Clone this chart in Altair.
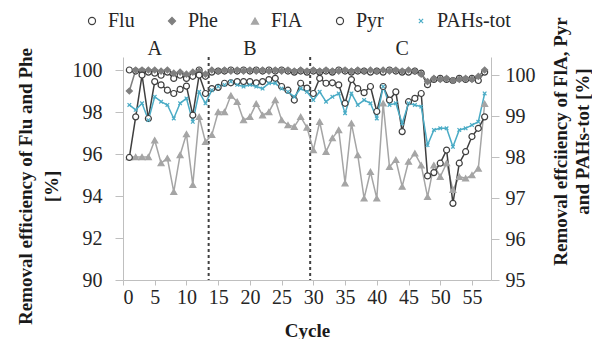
import altair as alt
import pandas as pd

cycles = list(range(1, 58))

# Left axis series (Removal efficiency of Flu and Phe, %)
flu = [100.0, 99.95, 99.95, 99.9, 99.85, 99.75, 99.9, 99.6, 99.75, 99.6,
       99.7, 100.0, 99.7, 99.9, 99.95, 99.95, 100.0, 99.95, 100.0, 99.95,
       100.0, 99.95, 100.0, 99.95, 100.0, 99.95, 99.9, 99.95, 99.9, 99.95,
       99.9, 99.95, 99.9, 100.0, 99.95, 99.9, 99.95, 99.95, 99.9, 99.95,
       99.9, 100.0, 99.95, 99.9, 99.9, 99.95, 99.85, 99.3, 99.55, 99.6,
       99.55, 99.5, 99.6, 99.55, 99.6, 99.5, 99.9]
phe = [99.0, 100.0, 100.0, 100.0, 100.0, 99.95, 100.0, 99.85, 99.9, 99.8,
       99.9, 99.95, 99.8, 100.0, 99.95, 100.0, 99.95, 100.0, 99.95, 100.0,
       99.95, 100.0, 99.95, 100.0, 99.95, 100.0, 99.95, 100.0, 99.95, 100.0,
       99.95, 100.0, 99.95, 99.95, 100.0, 99.95, 100.0, 99.95, 100.0, 99.95,
       100.0, 99.95, 100.0, 99.95, 100.0, 99.95, 99.8, 99.45, 99.6, 99.55,
       99.6, 99.5, 99.55, 99.6, 99.55, 99.7, 100.0]

# Right axis series (Removal efficiency of FlA, Pyr and PAHs-tot, %)
fla = [98.0, 98.0, 98.0, 98.0, 98.41, 97.85, 97.97, 97.15, 98.05, 98.56,
       97.32, 98.98, 98.37, 98.54, 99.1, 99.1, 99.5, 99.35, 98.9, 98.98,
       99.3, 99.02, 99.1, 99.39, 98.9, 98.78, 98.74, 98.98, 98.72, 98.17,
       98.86, 98.13, 98.46, 98.66, 97.36, 98.82, 98.05, 96.99, 97.64, 96.99,
       99.31, 97.76, 97.93, 97.28, 97.89, 98.09, 97.8, 97.03, 97.8, 97.52,
       97.85, 97.2, 97.52, 97.48, 97.56, 97.72, 99.3]
pyr = [97.99, 98.98, 100.0, 98.94, 99.84, 99.76, 99.63, 99.55, 99.65, 99.73,
       99.02, 100.0, 99.55, 99.67, 99.7, 99.8, 99.81, 99.84, 99.84, 99.84,
       99.81, 99.84, 99.89, 99.92, 99.72, 99.63, 99.39, 99.8, 99.68, 99.55,
       99.92, 99.8, 99.81, 99.76, 99.31, 99.89, 99.67, 99.57, 99.72, 99.11,
       99.72, 99.39, 99.59, 98.62, 99.35, 99.43, 99.55, 97.54, 97.62, 97.85,
       98.17, 96.87, 97.85, 98.13, 98.5, 98.7, 98.98]
pahs = [99.27, 99.15, 99.31, 98.9, 99.47, 99.35, 99.27, 98.94, 99.31, 99.43,
        98.86, 99.59, 99.31, 99.63, 99.72, 99.76, 99.84, 99.76, 99.72, 99.76,
        99.72, 99.67, 99.8, 99.8, 99.67, 99.59, 99.47, 99.67, 99.59, 99.39,
        99.59, 99.35, 99.47, 99.55, 99.07, 99.55, 99.27, 99.39, 99.31, 98.94,
        99.72, 99.27, 99.31, 98.82, 99.31, 99.27, 99.23, 98.29, 98.66, 98.7,
        98.7, 98.25, 98.66, 98.7, 98.78, 98.86, 99.55]

phase_cycles = [5, 20, 44]
phase_labels = ["A", "B", "C"]
phase_y = [100.98, 100.98, 100.98]
boundaries = [13.5, 29.5]

series = ["Flu", "Phe", "FlA", "Pyr", "PAHs-tot"]
stroke_range = ["#3f3f3f", "#7f7f7f", "#a5a5a5", "#3f3f3f", "#4bacc6"]
fill_range = ["#ffffff", "#7f7f7f", "#a5a5a5", "#ffffff", "#4bacc6"]
shape_range = ["circle", "diamond", "triangle-up", "circle",
               "M-0.6,-0.6L0.6,0.6M-0.6,0.6L0.6,-0.6"]

left_df = pd.concat([
    pd.DataFrame({"cycle": cycles, "value": flu, "series": "Flu"}),
    pd.DataFrame({"cycle": cycles, "value": phe, "series": "Phe"}),
])
right_df = pd.concat([
    pd.DataFrame({"cycle": cycles, "value": fla, "series": "FlA"}),
    pd.DataFrame({"cycle": cycles, "value": pyr, "series": "Pyr"}),
    pd.DataFrame({"cycle": cycles, "value": pahs, "series": "PAHs-tot"}),
])
phase_df = pd.DataFrame({"cycle": phase_cycles, "value": phase_y, "label": phase_labels})
bound_df = pd.DataFrame({"cycle": boundaries})

FONT = "Liberation Serif"

legend = alt.Legend(
    title=None, orient="none", legendX=-41, legendY=-46, direction="horizontal",
    columns=5, labelFont=FONT, labelFontSize=20, labelColor="#262626",
    symbolSize=50, symbolStrokeWidth=1.2, columnPadding=27, labelOffset=6,
    padding=0,
)
stroke_enc = alt.Stroke("series:N", sort=series,
                        scale=alt.Scale(domain=series, range=stroke_range), legend=legend)
fill_enc = alt.Fill("series:N", sort=series,
                    scale=alt.Scale(domain=series, range=fill_range), legend=legend)
shape_enc = alt.Shape("series:N", sort=series,
                      scale=alt.Scale(domain=series, range=shape_range), legend=legend)

x_enc = alt.X("cycle:Q", scale=alt.Scale(domain=[0, 58], nice=False),
              axis=alt.Axis(values=list(range(0, 56, 5)), title="Cycle",
                            labelPadding=2, tickSize=5, titlePadding=14))

y_left = alt.Y("value:Q", scale=alt.Scale(domain=[90, 100.62], nice=False, zero=False),
               axis=alt.Axis(orient="left", values=[90, 92, 94, 96, 98, 100],
                             title=["Removal efficiency of Flu and Phe", "[%]"],
                             titleAngle=270, titleX=-98, titleY=129,
                             titleAlign="center", titleBaseline="middle",
                             titleLineHeight=26, tickSize=8, labelPadding=13))
y_right = alt.Y("value:Q", scale=alt.Scale(domain=[95, 100.44], nice=False, zero=False),
                axis=alt.Axis(orient="right", values=[95, 96, 97, 98, 99, 100],
                              title=["Removal effciiency of FlA, Pyr", "and PAHs-tot [%]"],
                              titleAngle=270, titleX=69, titleY=84,
                              titleAlign="center", titleBaseline="middle",
                              titleLineHeight=22, tickSize=8, labelPadding=6))

rules = alt.Chart(bound_df).mark_rule(color="#404040", strokeDash=[3, 3],
                                      strokeWidth=2).encode(x=x_enc)

left_lines = alt.Chart(left_df).mark_line(strokeWidth=1.5).encode(
    x=x_enc, y=y_left, stroke=stroke_enc)
left_pts = alt.Chart(left_df).mark_point(size=36, strokeWidth=1.2, opacity=1).encode(
    x=x_enc, y=y_left, stroke=stroke_enc, fill=fill_enc, shape=shape_enc)
texts = alt.Chart(phase_df).mark_text(font=FONT, fontSize=20, color="#262626",
                                      baseline="middle").encode(
    x=x_enc, y=y_left, text="label:N")

right_lines = alt.Chart(right_df).mark_line(strokeWidth=1.5).encode(
    x=x_enc, y=y_right, stroke=stroke_enc)
right_pts = alt.Chart(right_df).mark_point(size=36, strokeWidth=1.2, opacity=1).encode(
    x=x_enc, y=y_right, stroke=stroke_enc, fill=fill_enc, shape=shape_enc)

left = alt.layer(rules, left_lines, left_pts, texts)
right = alt.layer(right_lines, right_pts)

chart = alt.layer(left, right).resolve_scale(y="independent").properties(
    width=368, height=223,
    padding={"left": 115, "top": 49, "right": 101, "bottom": 59},
    autosize=alt.AutoSizeParams(type="none"),
).configure_view(stroke=None).configure_axis(
    labelFont=FONT, labelFontSize=20, labelColor="#262626",
    titleFont=FONT, titleFontSize=19, titleFontWeight="bold", titleColor="#1a1a1a",
    domainColor="#bfbfbf", tickColor="#bfbfbf", grid=False,
)

chart.save("out.html", embed_options={"renderer": "svg", "actions": False})
